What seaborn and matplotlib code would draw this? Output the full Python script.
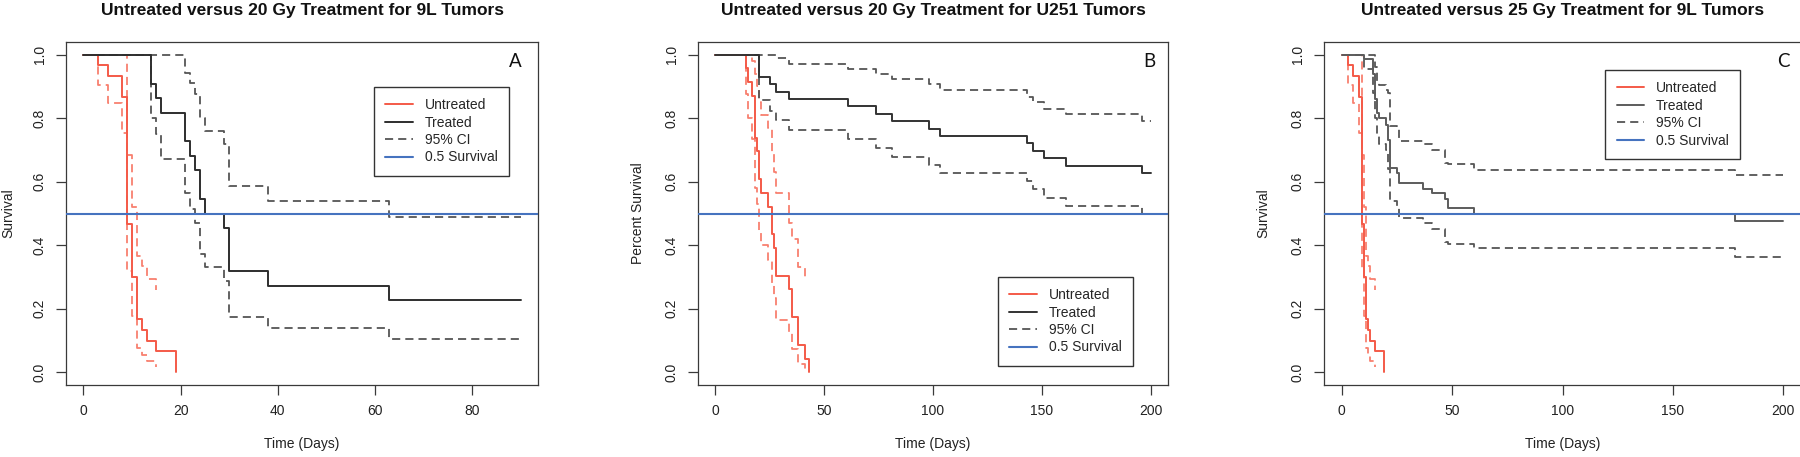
import matplotlib
matplotlib.use("Agg")
import matplotlib.pyplot as plt
from matplotlib.lines import Line2D
import seaborn as sns

# Shared untreated 9L control group (panels A and C)
ctrl9l_t = [0, 3, 5, 8, 9, 10, 11, 12, 13, 15, 19]
ctrl9l_s = [1.0, 0.967, 0.933, 0.867, 0.467, 0.300, 0.167, 0.133, 0.100, 0.067, 0.0]
ctrl9l_ci_t = [0, 3, 5, 8, 9, 10, 11, 12, 13, 15]
ctrl9l_lo = [1.0, 0.905, 0.848, 0.755, 0.320, 0.176, 0.076, 0.054, 0.034, 0.018]
ctrl9l_hi = [1.0, 1.0, 1.0, 1.0, 0.685, 0.520, 0.365, 0.334, 0.294, 0.258]

# A: 20 Gy, 9L
a_t = [0, 14, 15, 16, 21, 22, 23, 24, 25, 29, 30, 38, 63, 90]
a_s = [1.0, 0.909, 0.864, 0.818, 0.727, 0.682, 0.636, 0.545, 0.500, 0.455, 0.318, 0.273, 0.227, 0.227]
a_lo = [1.0, 0.800, 0.750, 0.672, 0.565, 0.513, 0.470, 0.374, 0.330, 0.286, 0.173, 0.138, 0.105, 0.105]
a_hi = [1.0, 1.0, 1.0, 1.0, 0.942, 0.910, 0.875, 0.800, 0.761, 0.719, 0.587, 0.540, 0.490, 0.490]

# B: 20 Gy, U251
ctrlu_t = [0, 14, 15, 17, 18, 19, 20, 21, 24, 26, 27, 28, 34, 35, 38, 41, 43]
ctrlu_s = [1.0, 0.957, 0.913, 0.870, 0.739, 0.696, 0.609, 0.565, 0.522, 0.435, 0.391, 0.304,
           0.261, 0.174, 0.087, 0.043, 0.0]
ctrlu_ci_t = [0, 14, 15, 17, 18, 19, 20, 21, 24, 26, 27, 28, 34, 35, 38, 41]
ctrlu_lo = [1.0, 0.875, 0.800, 0.735, 0.580, 0.530, 0.440, 0.400, 0.355, 0.275, 0.235, 0.165,
            0.125, 0.073, 0.025, 0.007]
ctrlu_hi = [1.0, 1.0, 1.0, 0.980, 0.940, 0.900, 0.850, 0.810, 0.770, 0.690, 0.630, 0.565,
            0.470, 0.420, 0.330, 0.300]
b_t = [0, 20, 25, 28, 34, 61, 74, 81, 98, 103, 143, 146, 151, 161, 196, 200]
b_s = [1.0, 0.930, 0.907, 0.884, 0.860, 0.837, 0.814, 0.791, 0.767, 0.744, 0.721, 0.698,
       0.674, 0.651, 0.628, 0.628]
b_lo = [1.0, 0.858, 0.823, 0.795, 0.764, 0.735, 0.705, 0.678, 0.654, 0.626, 0.602, 0.576,
        0.549, 0.525, 0.500, 0.500]
b_hi = [1.0, 1.0, 1.0, 0.990, 0.971, 0.955, 0.940, 0.923, 0.907, 0.889, 0.868, 0.850,
        0.830, 0.812, 0.790, 0.790]

# C: 25 Gy, 9L
c_t = [0, 10, 14, 15, 16, 17, 20, 21, 22, 25, 26, 37, 41, 47, 48, 60, 178, 200]
c_s = [1.0, 0.985, 0.940, 0.860, 0.815, 0.800, 0.780, 0.733, 0.642, 0.626, 0.595, 0.578,
       0.563, 0.547, 0.516, 0.500, 0.476, 0.476]
c_lo = [1.0, 0.955, 0.880, 0.800, 0.750, 0.720, 0.700, 0.640, 0.540, 0.525, 0.487, 0.470,
        0.452, 0.410, 0.405, 0.392, 0.364, 0.364]
c_hi = [1.0, 1.0, 1.0, 0.960, 0.910, 0.905, 0.890, 0.880, 0.775, 0.765, 0.728, 0.720,
        0.700, 0.660, 0.655, 0.638, 0.620, 0.620]

ref_level = 0.5
y_ticks = [0.0, 0.2, 0.4, 0.6, 0.8, 1.0]
legend_labels = ["Untreated", "Treated", "95% CI", "0.5 Survival"]

RED = "#f45a48"
RED_CI = "#f8806f"
GREY = "#555555"
BLUE = "#4673bf"
EDGE = "#3a3a3a"

sns.set_theme(style="white")
plt.rcParams["font.family"] = ["Liberation Sans", "DejaVu Sans"]

W, H = 1800, 457
fig = plt.figure(figsize=(W / 100, H / 100), dpi=100)

panels = [
    dict(left=66, right=538, letter="A", lx=0.951, xmax=90, xticks=[0, 20, 40, 60, 80],
         title="Untreated versus 20 Gy Treatment for 9L Tumors", ylabel="Survival",
         ctrl=(ctrl9l_t, ctrl9l_s, ctrl9l_ci_t, ctrl9l_lo, ctrl9l_hi),
         trt=(a_t, a_s, a_lo, a_hi), trt_color="#2e2e2e", leg=(0.6525, 0.869), ylab_x=15),
    dict(left=698, right=1168, letter="B", lx=0.960, xmax=200, xticks=[0, 50, 100, 150, 200],
         title="Untreated versus 20 Gy Treatment for U251 Tumors", ylabel="Percent Survival",
         ctrl=(ctrlu_t, ctrlu_s, ctrlu_ci_t, ctrlu_lo, ctrlu_hi),
         trt=(b_t, b_s, b_lo, b_hi), trt_color="#333333", leg=(0.638, 0.315), ylab_x=645),
    dict(left=1324, right=1801, letter="C", lx=0.964, xmax=200, xticks=[0, 50, 100, 150, 200],
         title="Untreated versus 25 Gy Treatment for 9L Tumors", ylabel="Survival",
         ctrl=(ctrl9l_t, ctrl9l_s, ctrl9l_ci_t, ctrl9l_lo, ctrl9l_hi),
         trt=(c_t, c_s, c_lo, c_hi), trt_color="#5c5c5c", leg=(0.590, 0.918), ylab_x=1270),
]

top, bottom = 42, 385
dash = (0, (4.5, 2.8))


def step(ax, t, s, color, ls="-", lw=1.4):
    sns.lineplot(x=t, y=s, ax=ax, color=color, linestyle=ls, linewidth=lw,
                 drawstyle="steps-post", estimator=None, sort=False)


for p in panels:
    width = p["right"] - p["left"]
    ax = fig.add_axes([p["left"] / W, 1 - bottom / H, width / W, (bottom - top) / H])

    ct, cs, cit, clo, chi = p["ctrl"]
    tt, ts, tlo, thi = p["trt"]
    step(ax, cit, clo, RED_CI, dash, 1.3)
    step(ax, cit, chi, RED_CI, dash, 1.3)
    step(ax, tt, tlo, GREY, dash, 1.3)
    step(ax, tt, thi, GREY, dash, 1.3)
    step(ax, ct, cs, RED)
    step(ax, tt, ts, p["trt_color"])
    ax.axhline(ref_level, color=BLUE, lw=1.5, zorder=5)

    pad = 0.04 * p["xmax"]
    ax.set_xlim(-pad, p["xmax"] + pad)
    ax.set_ylim(-0.04, 1.04)
    ax.set_xticks(p["xticks"])
    ax.set_xticklabels([str(v) for v in p["xticks"]])
    ax.set_yticks(y_ticks)
    ax.set_yticklabels([f"{v:.1f}" for v in y_ticks], rotation=90, va="center")
    ax.tick_params(bottom=True, left=True, direction="out", length=7, width=0.9,
                   color=EDGE, labelsize=10, labelcolor="#222222", pad=7)
    for sp in ax.spines.values():
        sp.set_color(EDGE)
        sp.set_linewidth(0.9)

    ax.set_xlabel("Time (Days)", fontsize=10, color="#222222")
    ax.set_ylabel(p["ylabel"], fontsize=10, color="#222222")
    ax.xaxis.set_label_coords(0.5, -(437 - bottom) / (bottom - top))
    ax.yaxis.set_label_coords((p["ylab_x"] - p["left"]) / width, 0.5)

    ax.text(0.5, 1 + (top - 10) / (bottom - top), p["title"], transform=ax.transAxes,
            ha="center", va="center", fontsize=12.5, fontweight="bold", color="#111111")
    ax.text(p["lx"], 0.942, p["letter"], transform=ax.transAxes, ha="center", va="center",
            fontsize=13.5, family=["Lato", "DejaVu Sans"], color="#111111")

    handles = [
        Line2D([], [], color=RED, lw=1.4),
        Line2D([], [], color=p["trt_color"], lw=1.4),
        Line2D([], [], color=GREY, lw=1.3, linestyle=dash),
        Line2D([], [], color=BLUE, lw=1.5),
    ]
    leg = ax.legend(handles, legend_labels, loc="upper left", bbox_to_anchor=p["leg"],
                    frameon=True, fancybox=False, edgecolor="#333333", fontsize=10,
                    handlelength=2.0, handletextpad=0.85, labelspacing=0.25,
                    borderpad=0.8, borderaxespad=0)
    leg.get_frame().set_linewidth(1.0)
    leg.get_frame().set_alpha(1)
    leg.set_zorder(10)

fig.savefig("out.png", dpi=100)
